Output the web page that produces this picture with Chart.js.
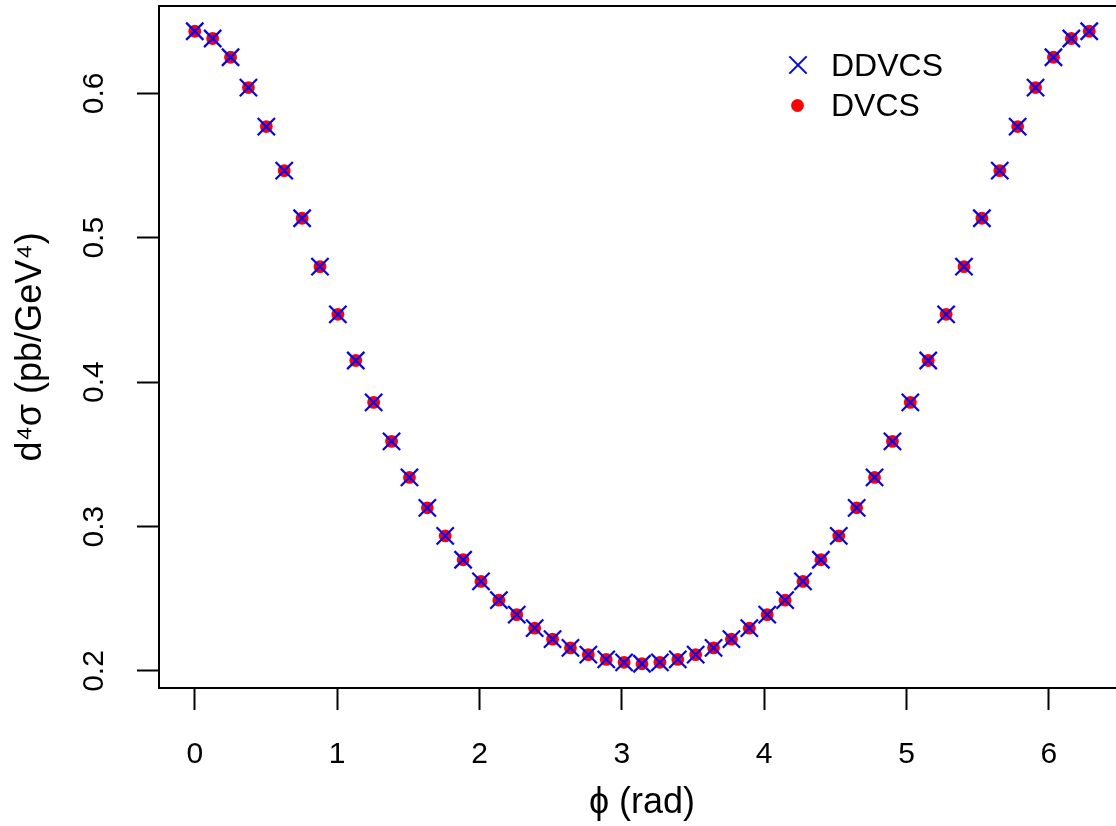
<!DOCTYPE html>
<html>
<head>
<meta charset="utf-8">
<script src="https://cdn.jsdelivr.net/npm/chart.js@4.4.1/dist/chart.umd.min.js"></script>
<style>
  html, body { margin: 0; padding: 0; background: #fff; overflow: hidden; }
  #wrap { width: 1129px; height: 826px; }
</style>
</head>
<body>
<div id="wrap"><canvas id="xsChart" width="1129" height="826"></canvas></div>
<script>
// phi values (rad), 51 points from 0 to 2pi
const phi = [
  0, 0.1257, 0.2513, 0.3770, 0.5027, 0.6283, 0.7540, 0.8796, 1.0053, 1.1310,
  1.2566, 1.3823, 1.5080, 1.6336, 1.7593, 1.8850, 2.0106, 2.1363, 2.2619, 2.3876,
  2.5133, 2.6389, 2.7646, 2.8903, 3.0159, 3.1416, 3.2673, 3.3929, 3.5186, 3.6442,
  3.7699, 3.8956, 4.0212, 4.1469, 4.2726, 4.3982, 4.5239, 4.6496, 4.7752, 4.9009,
  5.0265, 5.1522, 5.2779, 5.4035, 5.5292, 5.6549, 5.7805, 5.9062, 6.0319, 6.1575,
  6.2832,
];

// d4sigma (pb/GeV^4)
const ddvcs = [
  0.643, 0.638, 0.625, 0.604, 0.577, 0.5465, 0.5135, 0.480, 0.447, 0.415,
  0.386, 0.359, 0.334, 0.313, 0.2935, 0.277, 0.262, 0.249, 0.239, 0.2296,
  0.222, 0.216, 0.2113, 0.208, 0.206, 0.205, 0.206, 0.208, 0.2113, 0.216,
  0.222, 0.2296, 0.239, 0.249, 0.262, 0.277, 0.2935, 0.313, 0.334, 0.359,
  0.386, 0.415, 0.447, 0.480, 0.5135, 0.5465, 0.577, 0.604, 0.625, 0.638,
  0.643,
];
const dvcs = [
  0.643, 0.638, 0.625, 0.604, 0.577, 0.5465, 0.5135, 0.480, 0.447, 0.415,
  0.386, 0.359, 0.334, 0.313, 0.2935, 0.277, 0.262, 0.249, 0.239, 0.2296,
  0.222, 0.216, 0.2113, 0.208, 0.206, 0.205, 0.206, 0.208, 0.2113, 0.216,
  0.222, 0.2296, 0.239, 0.249, 0.262, 0.277, 0.2935, 0.313, 0.334, 0.359,
  0.386, 0.415, 0.447, 0.480, 0.5135, 0.5465, 0.577, 0.604, 0.625, 0.638,
  0.643,
];

const xTicks = [0, 1, 2, 3, 4, 5, 6];
const yTicks = [0.2, 0.3, 0.4, 0.5, 0.6];

const FONT = "'Liberation Sans', Arial, Helvetica, sans-serif";
const BLUE = "#0000FF";
const RED = "#FF0000";

// box around the plot region (R style)
const boxPlugin = {
  id: "box",
  afterDraw(chart) {
    const { ctx, chartArea: a } = chart;
    ctx.save();
    ctx.strokeStyle = "#000";
    ctx.lineWidth = 2;
    ctx.strokeRect(a.left, a.top, a.right - a.left, a.bottom - a.top);
    ctx.restore();
  },
};

// legend without frame, top right inside the plot
const legendPlugin = {
  id: "rlegend",
  afterDraw(chart) {
    const { ctx } = chart;
    const items = [
      { text: "DDVCS", style: "crossRot", radius: 12.2, border: 2, color: BLUE, x: 798, y: 65, ty: 76 },
      { text: "DVCS", style: "circle", radius: 6.4, border: 0, color: RED, x: 797.5, y: 105.5, ty: 116 },
    ];
    ctx.save();
    items.forEach((it) => {
      ctx.strokeStyle = it.color;
      ctx.fillStyle = it.color;
      ctx.lineWidth = it.border;
      Chart.helpers.drawPoint(
        ctx,
        { pointStyle: it.style, radius: it.radius, borderWidth: it.border, rotation: 0 },
        it.x,
        it.y
      );
      ctx.fillStyle = "#000";
      ctx.font = `32px ${FONT}`;
      ctx.textAlign = "left";
      ctx.textBaseline = "alphabetic";
      ctx.fillText(it.text, 831, it.ty);
    });
    ctx.restore();
  },
};

function initChart() {
  const ctx = document.getElementById("xsChart").getContext("2d");

  new Chart(ctx, {
    type: "scatter",
    data: {
      datasets: [
        {
          label: "DDVCS",
          data: phi.map((p, i) => ({ x: p, y: ddvcs[i] })),
          pointStyle: "crossRot",
          pointRadius: 12.2,
          pointBorderWidth: 2.2,
          pointBorderColor: BLUE,
          pointBackgroundColor: BLUE,
          showLine: false,
        },
        {
          label: "DVCS",
          data: phi.map((p, i) => ({ x: p, y: dvcs[i] })),
          pointStyle: "circle",
          pointRadius: 6.4,
          pointBorderWidth: 0,
          pointBackgroundColor: RED,
          showLine: false,
        },
      ],
    },
    options: {
      responsive: false,
      animation: false,
      events: [],
      layout: { autoPadding: false, padding: { top: 6, right: 4, left: 0, bottom: 0 } },
      plugins: {
        legend: { display: false },
        tooltip: { enabled: false },
      },
      scales: {
        x: {
          type: "linear",
          position: "bottom",
          min: -0.2513,
          max: 6.5345,
          afterBuildTicks: (scale) => {
            scale.ticks = xTicks.map((v) => ({ value: v }));
          },
          afterFit: (scale) => {
            scale.height = 138;
            scale.paddingLeft = 0;
            scale.paddingRight = 0;
          },
          grid: {
            drawOnChartArea: false,
            drawTicks: true,
            tickLength: 22,
            tickWidth: 2,
            tickColor: "#000",
          },
          border: { display: false },
          ticks: {
            color: "#000",
            font: { family: FONT, size: 30 },
            padding: 27,
            maxRotation: 0,
            autoSkip: false,
            callback: (v) => String(v),
          },
          title: {
            display: true,
            text: "ϕ (rad)",
            color: "#000",
            font: { family: FONT, size: 36 },
            padding: { top: 0, bottom: 1 },
          },
        },
        y: {
          type: "linear",
          position: "left",
          min: 0.1882,
          max: 0.6605,
          afterBuildTicks: (scale) => {
            scale.ticks = yTicks.map((v) => ({ value: v }));
          },
          afterFit: (scale) => {
            scale.width = 159;
            scale.paddingTop = 0;
            scale.paddingBottom = 0;
          },
          grid: {
            drawOnChartArea: false,
            drawTicks: true,
            tickLength: 22,
            tickWidth: 2,
            tickColor: "#000",
          },
          border: { display: false },
          ticks: {
            color: "#000",
            font: { family: FONT, size: 30 },
            minRotation: 90,
            maxRotation: 90,
            crossAlign: "center",
            padding: 21,
            autoSkip: false,
            callback: (v) => v.toFixed(1),
          },
          title: {
            display: true,
            text: "d⁴σ (pb/GeV⁴)",
            color: "#000",
            font: { family: FONT, size: 36 },
            padding: { top: 9, bottom: 0 },
          },
        },
      },
    },
    plugins: [boxPlugin, legendPlugin],
  });
}

document.addEventListener("DOMContentLoaded", () => {
  initChart();
});
</script>
</body>
</html>
